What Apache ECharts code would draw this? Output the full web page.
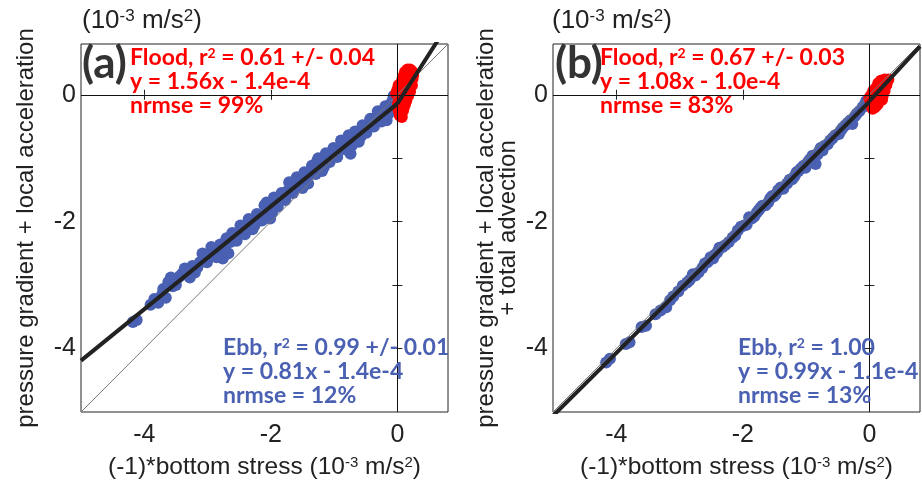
<!DOCTYPE html>
<html>
<head>
<meta charset="utf-8">
<script src="https://cdn.jsdelivr.net/npm/echarts@6/dist/echarts.min.js"></script>
<style>
html, body { margin: 0; padding: 0; background: #fff; }
#chart { width: 922px; height: 485px; }
</style>
</head>
<body>
<div id="chart"></div>
<script>
// ticks
var xTicks = [-4, -2, 0];
var yTicks = [-4, -3, -2, -1, 0];
var yLabels = [-4, -2, 0];

// (a) ebb points
var ebbA = [[-4.18,-3.58],[-4.12,-3.55],[-3.90,-3.31],[-3.84,-3.22],[-3.78,-3.28],[-3.70,-3.06],[-3.62,-2.95],[-3.55,-3.02],
  [-3.48,-2.90],[-3.40,-2.82],[-3.33,-2.80],[-3.24,-2.70],[-3.20,-2.80],[-3.12,-2.64],[-3.05,-2.58],[-2.98,-2.52],
  [-2.90,-2.50],[-2.83,-2.44],[-2.76,-2.58],[-2.70,-2.26],[-2.64,-2.32],[-2.58,-2.22],[-2.50,-2.16],[-2.45,-2.10],
  [-2.38,-2.04],[-2.32,-1.98],[-2.26,-2.06],[-2.18,-1.92],[-2.10,-1.74],[-2.05,-1.82],[-1.98,-1.86],[-1.93,-1.70],
  [-1.86,-1.62],[-1.80,-1.58],[-1.74,-1.52],[-1.68,-1.44],[-1.62,-1.36],[-1.56,-1.42],[-1.50,-1.47],[-1.44,-1.30],
  [-1.38,-1.24],[-1.32,-1.16],[-1.27,-1.05],[-1.22,-1.10],[-1.16,-1.14],[-1.10,-0.98],[-1.04,-0.95],[-0.98,-0.88],
  [-0.92,-0.84],[-0.86,-0.74],[-0.80,-0.72],[-0.74,-0.93],[-0.70,-0.68],[-0.64,-0.60],[-0.58,-0.66],[-0.52,-0.52],
  [-0.46,-0.47],[-0.40,-0.42],[-0.34,-0.36],[-0.28,-0.30],[-0.22,-0.26],[-0.17,-0.40],[-0.12,-0.16],[-0.08,-0.10],
  [-0.04,-0.05],
  [-3.72,-3.15],[-3.66,-3.20],[-3.58,-2.88],[-3.50,-3.00],[-3.44,-2.86],[-3.36,-2.74],
  [-3.28,-2.88],[-3.16,-2.72],[-3.08,-2.50],[-3.01,-2.64],[-2.94,-2.40],[-2.86,-2.56],[-2.80,-2.36],[-2.73,-2.40],
  [-2.67,-2.50],[-2.61,-2.18],[-2.54,-2.30],[-2.48,-2.06],[-2.41,-2.20],[-2.35,-1.96],[-2.29,-2.12],[-2.22,-1.88],
  [-2.14,-1.98],[-2.07,-1.70],[-2.01,-1.95],[-1.95,-1.62],[-1.89,-1.76],[-1.83,-1.55],[-1.77,-1.66],[-1.71,-1.38],
  [-1.65,-1.55],[-1.59,-1.30],[-1.53,-1.36],[-1.47,-1.22],[-1.41,-1.40],[-1.35,-1.12],[-1.29,-1.25],[-1.25,-1.00],
  [-1.19,-1.20],[-1.13,-0.92],[-1.07,-1.06],[-1.01,-0.84],[-0.95,-0.98],[-0.89,-0.72],[-0.83,-0.86],[-0.77,-0.64],
  [-0.72,-0.80],[-0.67,-0.58],[-0.61,-0.74],[-0.55,-0.48],[-0.49,-0.60],[-0.43,-0.38],[-0.37,-0.50],[-0.31,-0.26],
  [-0.25,-0.42],[-0.19,-0.18],[-0.14,-0.30],[-0.10,-0.22],[-0.06,-0.02],[-0.02,-0.15]];
// (a) flood points
var floodA = [[0.00,0.00],[0.02,-0.08],[0.03,0.06],[0.04,-0.20],[0.05,-0.30],[0.06,-0.12],[0.07,0.10],[0.08,-0.02],
  [0.09,-0.25],[0.10,0.15],[0.11,0.04],[0.12,-0.15],[0.13,0.22],[0.14,0.08],[0.15,0.30],[0.16,0.18],[0.17,0.35],
  [0.18,0.25],[0.19,0.12],[0.20,0.33],[0.21,0.20],[0.22,0.30],[0.04,-0.33],[0.01,-0.15],[0.12,-0.05],[0.18,0.38],
  [0.00,0.08],[0.02,0.15],[0.06,0.18],[0.08,0.25],[0.10,0.30],[0.12,0.36],[0.16,0.40],[0.20,0.40],[0.23,0.37],
  [0.24,0.25],[0.25,0.31],[0.23,0.15],[0.20,0.05],[0.17,-0.02],[0.14,-0.10],[0.10,-0.20],[0.07,-0.35],[0.02,-0.25],
  [-0.02,0.02],[0.06,0.02]];

// (b) ebb points
var ebbB = [[-4.16,-4.22],[-4.10,-4.16],[-3.85,-3.93],[-3.79,-3.90],[-3.60,-3.66],[-3.53,-3.64],[-3.30,-3.40],[-3.21,-3.35],
  [-3.10,-3.18],[-2.95,-3.01],[-2.88,-2.96],[-2.79,-2.83],[-2.70,-2.80],[-2.64,-2.73],[-2.56,-2.64],[-2.51,-2.56],
  [-2.44,-2.52],[-2.37,-2.41],[-2.28,-2.37],[-2.16,-2.25],[-2.08,-2.14],[-1.98,-2.06],[-1.90,-1.93],[-1.82,-1.92],
  [-1.75,-1.82],[-1.69,-1.75],[-1.60,-1.70],[-1.54,-1.60],[-1.48,-1.57],[-1.40,-1.46],[-1.30,-1.40],[-1.22,-1.33],
  [-1.15,-1.22],[-1.08,-1.16],[-1.01,-1.15],[-0.94,-1.02],[-0.85,-1.09],[-0.80,-0.90],[-0.74,-0.88],[-0.66,-0.78],
  [-0.58,-0.68],[-0.48,-0.62],[-0.42,-0.52],[-0.34,-0.44],[-0.27,-0.46],[-0.20,-0.30],[-0.11,-0.20],[-0.05,-0.10],
  [-3.38,-3.46],[-3.15,-3.24],[-3.02,-3.10],[-2.84,-2.92],
  [-2.75,-2.85],[-2.60,-2.66],[-2.47,-2.58],[-2.40,-2.48],[-2.32,-2.40],[-2.22,-2.32],[-2.12,-2.22],[-2.03,-2.08],
  [-1.94,-2.05],[-1.86,-1.95],[-1.78,-1.86],[-1.72,-1.78],[-1.64,-1.74],[-1.57,-1.64],[-1.51,-1.60],[-1.44,-1.50],
  [-1.36,-1.48],[-1.26,-1.34],[-1.18,-1.28],[-1.12,-1.20],[-1.04,-1.12],[-0.97,-1.06],[-0.90,-0.96],[-0.82,-0.94],
  [-0.77,-0.84],[-0.70,-0.80],[-0.62,-0.72],[-0.54,-0.64],[-0.45,-0.56],[-0.38,-0.48],[-0.30,-0.40],[-0.23,-0.34],
  [-0.16,-0.26],[-0.08,-0.16],[-0.02,-0.08]];
// (b) flood points
var floodB = [[0.03,-0.10],[0.04,-0.18],[0.05,0.00],[0.07,-0.08],[0.08,-0.20],[0.09,0.05],[0.10,-0.05],[0.12,0.02],
  [0.13,-0.15],[0.14,0.10],[0.15,0.00],[0.17,0.08],[0.18,-0.05],[0.19,0.15],[0.20,0.05],[0.22,0.18],[0.23,0.10],
  [0.25,0.20],[0.26,0.14],[0.28,0.22],[0.06,-0.14],[0.11,-0.12],[0.16,0.12],[0.21,-0.02],
  [0.02,-0.02],[0.06,0.06],[0.10,0.10],[0.14,0.18],[0.18,0.22],[0.24,0.24],[0.27,0.16],[0.24,0.06],[0.20,-0.08],
  [0.15,-0.10],[0.10,-0.18],[0.05,-0.22],[0.00,-0.06],[0.30,0.24]];

// fit lines and 1:1
var oneToOne = [[-5, -5], [0.8, 0.8]];
var fitEbbA = [[-5, -4.19], [0, -0.14]];
var fitFloodA = [[0, -0.14], [0.8, 1.108]];
var fitEbbB = [[-5, -5.06], [0, -0.11]];
var fitFloodB = [[0, -0.10], [0.8, 0.764]];

var blue = '#4a60b2';
var red = '#ff0000';
var axisFont = 'Liberation Sans';
var noteFont = 'Lato';

var oChart = echarts.init(document.getElementById('chart'));

function sup(size, color, bold) {
    return { fontSize: size, fontFamily: bold ? noteFont : axisFont, fontWeight: bold ? 'bold' : 'normal',
        color: color, verticalAlign: 'top', lineHeight: 24 };
}

function xAxes(g) {
    return [{
        gridIndex: g, type: 'value', min: -5, max: 0.8, position: 'bottom',
        axisLine: { show: false }, splitLine: { show: false },
        axisTick: { inside: true, length: 5, customValues: xTicks, lineStyle: { color: '#222' } },
        axisLabel: { customValues: xTicks, margin: 11, fontSize: 25, color: '#222', fontFamily: axisFont },
        name: '(-1)*bottom stress (10{s|-3} m/s{s|2})', nameLocation: 'middle', nameGap: 43,
        nameTextStyle: { fontSize: 24.5, color: '#222', fontFamily: axisFont, rich: { s: sup(15, '#222') } }
    }, {
        gridIndex: g, type: 'value', min: -5, max: 0.8, position: 'top',
        axisLine: { show: false }, splitLine: { show: false },
        axisTick: { inside: true, length: 5, customValues: xTicks, lineStyle: { color: '#222' } },
        axisLabel: { show: false }
    }];
}

function yAxes(g, name, gap) {
    return [{
        gridIndex: g, type: 'value', min: -5, max: 0.8, interval: 1, position: 'left',
        axisLine: { show: false }, splitLine: { show: false },
        axisTick: { inside: true, length: 5, customValues: yTicks, lineStyle: { color: '#222' } },
        axisLabel: { customValues: yLabels, margin: 5, fontSize: 25, color: '#222', fontFamily: axisFont },
        name: name, nameLocation: 'middle', nameGap: gap,
        nameTextStyle: { fontSize: 24, lineHeight: 22, color: '#222', fontFamily: axisFont }
    }, {
        gridIndex: g, type: 'value', min: -5, max: 0.8, interval: 1, position: 'right',
        axisLine: { show: false }, splitLine: { show: false },
        axisTick: { inside: true, length: 5, customValues: yTicks, lineStyle: { color: '#222' } },
        axisLabel: { show: false }
    }];
}

function note(text, left, top, color, size, lh) {
    return {
        text: text, left: left, top: top, padding: 0,
        textStyle: { fontFamily: noteFont, fontWeight: 'bold', fontSize: size, lineHeight: lh, color: color,
            rich: { s: sup(14, color, true) } }
    };
}

function unitTitle(left) {
    return {
        text: '(10{s|-3} m/s{s|2})', left: left, top: 8, padding: 0,
        textStyle: { fontFamily: axisFont, fontWeight: 'normal', fontSize: 26, lineHeight: 26, color: '#222',
            rich: { s: sup(17, '#222') } }
    };
}

function panelSeries(xi, yi, ebb, flood, fitE, fitF) {
    var ln = function (data, color, width, z) {
        return { type: 'line', xAxisIndex: xi, yAxisIndex: yi, data: data, symbol: 'none', z: z,
            lineStyle: { color: color, width: width }, silent: true, clip: true };
    };
    var one = ln(oneToOne, '#777', 1, 4);
    one.markLine = {
        silent: true, symbol: ['none', 'none'], label: { show: false },
        lineStyle: { color: '#111', width: 1, type: 'solid' },
        data: [{ xAxis: 0 }, { yAxis: 0 }]
    };
    return [
        { type: 'scatter', xAxisIndex: xi, yAxisIndex: yi, data: ebb, symbolSize: 12, z: 2,
            itemStyle: { color: blue, opacity: 1 } },
        { type: 'scatter', xAxisIndex: xi, yAxisIndex: yi, data: flood, symbolSize: 12, z: 3,
            itemStyle: { color: red, opacity: 1 } },
        one,
        ln(fitE, '#222', 4, 5),
        ln(fitF, '#222', 4, 5)
    ];
}

var option = {
    animation: false,
    backgroundColor: '#fff',
    title: [
        unitTitle(82),
        unitTitle(552),
        note('(a)', 82, 42, '#333', 44, 44),
        note('(b)', 555, 42, '#333', 44, 44),
        note('Flood, r{s|2} = 0.61 +/- 0.04\ny = 1.56x - 1.4e-4\nnrmse = 99%', 130, 46, red, 23, 24),
        note('Ebb, r{s|2} = 0.99 +/- 0.01\ny = 0.81x - 1.4e-4\nnrmse = 12%', 223, 336, blue, 23, 24),
        note('Flood, r{s|2} = 0.67 +/- 0.03\ny = 1.08x - 1.0e-4\nnrmse = 83%', 600, 46, red, 23, 24),
        note('Ebb, r{s|2} = 1.00\ny = 0.99x - 1.1e-4\nnrmse = 13%', 738, 336, blue, 23, 24)
    ],
    grid: [
        { left: 81, top: 44, width: 367, height: 368, show: true, borderColor: '#222', borderWidth: 1, backgroundColor: 'transparent' },
        { left: 553, top: 44, width: 367, height: 368, show: true, borderColor: '#222', borderWidth: 1, backgroundColor: 'transparent' }
    ],
    xAxis: xAxes(0).concat(xAxes(1)),
    yAxis: yAxes(0, 'pressure gradient + local acceleration', 44)
        .concat(yAxes(1, 'pressure gradient + local acceleration\n+ total advection', 34)),
    series: panelSeries(0, 0, ebbA, floodA, fitEbbA, fitFloodA)
        .concat(panelSeries(2, 2, ebbB, floodB, fitEbbB, fitFloodB))
};
oChart.setOption(option);
</script>
</body>
</html>
